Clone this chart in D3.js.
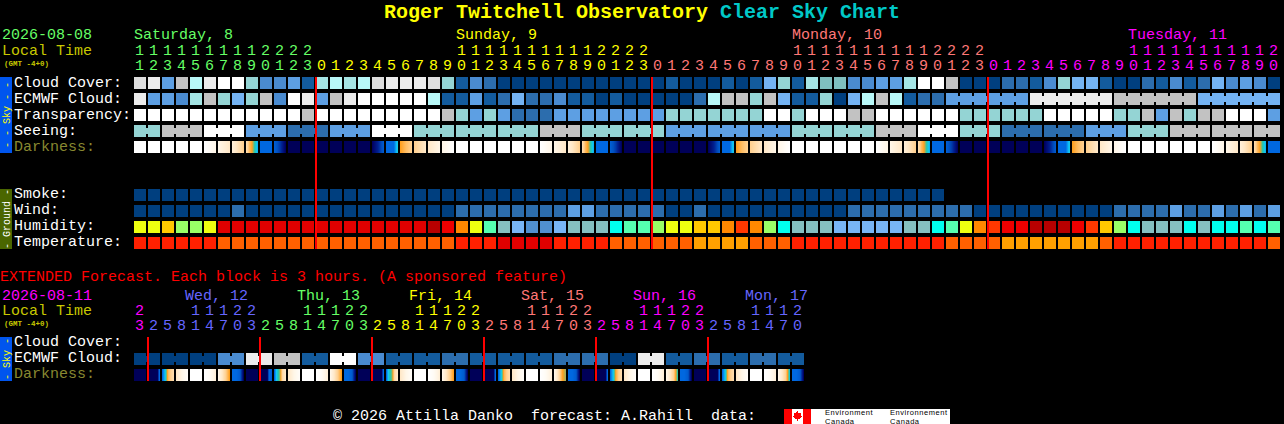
<!DOCTYPE html>
<html><head><meta charset="utf-8">
<script src="https://cdn.jsdelivr.net/npm/d3@7/dist/d3.min.js"></script>
<style>html,body{margin:0;padding:0;background:#000}svg{display:block}
text{font-family:"Liberation Mono",monospace;font-size:15px;white-space:pre}</style>
</head><body><svg id="chart" width="1284" height="424"></svg>
<script>
// ---- categories / labels ----
const titleMain = "Roger Twitchell Observatory", titleTail = "Clear Sky Chart";
const startHour = 11, extStartHour = 23;
const dayLabels = [["Saturday, 8",0,0],["Sunday, 9",23,1],["Monday, 10",47,2],["Tuesday, 11",71,3]];
const dayBreaks = [0,13,37,61];
const extDayLabels = [["Wed, 12",4],["Thu, 13",12],["Fri, 14",20],["Sat, 15",28],["Sun, 16",36],["Mon, 17",44]];
const extDayBreaks = [0,1,9,17,25,33,41];
const mainMidnights = [13,37,61];
const extMidnights = [1,9,17,25,33,41];
const skyLabels = ["Cloud Cover:","ECMWF Cloud:","Transparency:","Seeing:","Darkness:"];
const groundLabels = ["Smoke:","Wind:","Humidity:","Temperature:"];
const extLabels = ["Cloud Cover:","ECMWF Cloud:","Darkness:"];

// ---- series values (level codes) ----
const cloudCover = [10,11,4,9,8,11,12,12,6,3,3,4,1,7,8,7,8,10,11,11,11,10,6,1,3,2,0,0,0,0,0,0,0,0,0,0,0,0,1,0,0,0,1,0,1,5,6,1,7,13,13,3,3,4,4,7,12,12,9,0,0,0,2,2,1,3,6,5,5,1,0,0,2,1,3,1,2,5,3,4,3,0];
const ecmwfCloud = [11,4,4,3,7,9,6,5,6,9,3,12,11,4,9,11,12,12,12,12,12,8,1,1,4,1,2,5,2,2,3,1,1,0,1,0,0,0,0,0,2,8,9,9,6,9,5,1,1,6,0,5,8,9,8,1,2,2,4,4,4,4,4,4,11,11,11,11,11,11,9,9,9,9,9,9,5,5,5,5,5,5];
const ecmwfHourlyCols = 58, ecmwfGroupSize = 6;
const transparency = [12,12,12,12,12,12,12,12,12,12,12,12,9,12,12,12,12,12,12,12,12,12,9,6,4,6,4,2,2,2,4,4,4,4,4,4,4,4,6,6,6,6,6,6,6,12,12,6,12,12,12,9,9,12,12,12,12,12,12,6,6,6,6,6,6,12,12,12,12,12,6,6,9,4,9,6,9,9,12,12,12,4];
const seeingGroups = [2,3,3,3,3,3,3,3,3,3,3,3,3,3,3,3,3,3,3,3,3,3,3,3,3,3,3,2];
const seeing = [6,9,12,4,2,4,12,6,6,6,9,6,6,4,4,4,6,6,9,12,6,2,2,4,6,9,9,9];
const smoke = [0,0,0,0,0,0,0,0,0,0,0,0,0,0,0,0,0,0,0,0,0,0,0,0,0,0,0,0,0,0,0,0,0,0,0,0,0,0,0,0,0,0,0,0,0,0,0,0,0,0,0,0,0,0,0,0,0,0];
const wind = [0,0,0,0,0,0,0,2,0,0,0,0,0,0,0,0,0,0,0,0,0,0,0,2,2,2,2,2,2,2,2,4,4,2,2,2,2,2,0,0,2,0,0,0,0,0,0,0,0,0,0,2,2,2,2,2,2,2,2,2,0,0,0,0,0,0,0,0,0,0,2,2,2,2,4,2,2,4,2,4,2,4];
const humidity = [6,6,7,5,5,6,11,11,11,11,11,11,11,11,11,11,11,11,11,11,11,12,10,8,6,4,2,1,0,0,1,2,2,2,3,4,4,5,6,6,7,7,8,9,8,5,3,2,2,2,1,1,1,1,1,2,2,3,4,6,8,9,10,10,12,12,12,10,9,7,5,3,2,2,2,3,2,3,3,4,3,4];
const temperature = [2,2,2,2,2,2,1,1,1,1,1,1,1,1,1,1,1,1,1,1,1,1,1,2,2,2,3,3,3,3,2,2,2,2,1,1,1,1,1,1,0,0,0,0,1,1,1,2,2,2,2,2,2,2,2,2,2,2,1,1,1,1,0,0,0,0,0,0,0,1,2,2,2,2,2,2,2,2,2,2,2,1];
// darkness: samples across each block, on the darkness ramp
const darkness = [
[0],[0],[0],[0],[0],[0,1],[1,2],[1.5,3],[2.5,3.4,4,5,5.6],[6],[6.4,7.5,9],[9.5],[9.5],[9.5],[9.5],[9.5],[9.5],[9,8,6.6],[6,6,6,5.4],[4,3.4,3],[3,2],[2,1],[1,0],
[0],[0],[0],[0],[0],[0],[0,1],[1,2],[1.5,3],[2.5,3.4,4,5,5.6],[6],[6.4,7.5,9],[9.5],[9.5],[9.5],[9.5],[9.5],[9.5],[9,8,6.6],[6,6,6,5.4],[4,3.4,3],[3,2],[2,1],[1,0],
[0],[0],[0],[0],[0],[0],[0,1],[1,2],[1.5,3],[2.5,3.4,4,5,5.6],[6],[6.4,7.5,9],[9.5],[9.5],[9.5],[9.5],[9.5],[9.5],[9,8,6.6],[6,6,6,5.4],[4,3.4,3],[3,2],[2,1],[1,0],
[0],[0],[0],[0],[0],[0],[0,1],[1,2],[1.5,3],[2.5,3.4,4,5,5.6],[6]];
const extEcmwfPairs = [0,0,0,3,11,9,1,12,3,1,1,2,1,1,1,2,2,0,11,1,2,1,2,1];
const extDarkness = [
[9.5],[9.5,9.5,9.5,9.5,9.5,6],[6,5.5,3.6,3,2.5],[2,1,0.3],[0],[0,0.5,1.5],[1,2,3,4],[6,6,6.5,9],
[9.5],[9.5,9.5,9.5,9.5,6,6.5],[6,5.3,4.5,2.5,2],[2,1,0.3],[0],[0,0.5,1.5],[1,2,3,4],[6,6,6.5,9],
[9.5],[9.5,9.5,9.5,9.5,9.5,6],[6,5.2,4.6,2.5,2],[2,1,0.3],[0],[0,0.5,1.5],[1,2,3,4],[6,6,6.5,9],
[9.5],[9.5,9.5,9.5,9.5,9.5,6],[6,5.5,3.6,3,2.5],[2,1,0.3],[0],[0,0.5,1.5],[1,2,3,4,4.4],[6,6,6.5,9],
[9.5],[9.5,9.5,9.5,9.5,9.5,6],[6,5.5,3.8,3,2.5],[2,1,0.3],[0],[0,0.5,1.5],[1,2,3,4.9],[6,6,6.5,9],
[9.5],[9.5,9.5,9.5,9.5,9.5,6],[6,5.5,3.6,3,2.5],[2,1,0.3],[0],[0,0.5,1.5],[1,2,3,5.2],[6,6,6.5,9]];

// ---- styles ----
const cloudColors = ["#003f7f","#135b9d","#2c6dad","#4a8bd0","#5d9fe3","#74b3f3","#94d4d4","#a5e5e5","#b8f8f8","#c2c2c2","#dedede","#ececec","#ffffff","#7fbfbf"];
const humidColors = ["#5090d0","#78b5f5","#85c0c0","#00ffee","#55ffb0","#99ff66","#eeff10","#ffc800","#ff8800","#ff3800","#ee0000","#e00000","#b80000"];
const tempColors = ["#ffa000","#ff6000","#ff2000","#e00000"];
const dayColors = ["#66ff66","#ffff00","#ff7777","#ff00ff","#6666ff"];
const extDayColors = ["#ff00ff","#6666ff","#66ff66","#ffff00","#ff7777","#ff00ff","#6666ff"];

const cloudColor = d3.scaleOrdinal(d3.range(cloudColors.length), cloudColors);
const humidColor = d3.scaleOrdinal(d3.range(humidColors.length), humidColors);
const tempColor = d3.scaleOrdinal(d3.range(tempColors.length), tempColors);
const darkColor = d3.scaleLinear()
  .domain([0,1,2,3,4,5,5.5,6,7,8,9,9.5])
  .range(["#ffffff","#fff6e8","#ffe8c8","#ffd090","#ffa020","#20c8b0","#10c8f8","#0068e0","#0050c0","#002090","#000060","#000058"]);

const CELL = 12, PITCH = 14, ROW = 16, X0 = 134;
const x = d3.scaleLinear().domain([0,1]).range([X0, X0 + PITCH]);
const rowY = top => d3.scaleLinear().domain([0,1]).range([top, top + ROW]);
const svg = d3.select("#chart").attr("shape-rendering","crispEdges");

const expand = (vals, sizes) => { let s=0; return vals.map((v,i)=>{const g={start:s,size:sizes[i],v}; s+=sizes[i]; return g;}); };
const singles = arr => arr.map((v,i)=>({start:i,size:1,v}));

function drawRow(groups, y, color) {
  const g = svg.append("g").attr("class","row");
  const cells = groups.flatMap(d => d3.range(d.size).map(k => ({c:d.start+k, v:d.v})));
  g.selectAll("rect.cell").data(cells).join("rect").attr("class","cell")
    .attr("x",d=>x(d.c)).attr("y",y).attr("width",CELL).attr("height",CELL).attr("fill",d=>color(d.v));
  const links = groups.flatMap(d => d3.range(d.size-1).map(k => ({c:d.start+k, v:d.v})));
  g.selectAll("rect.link").data(links).join("rect").attr("class","link")
    .attr("x",d=>x(d.c)+CELL).attr("y",y+3).attr("width",PITCH-CELL).attr("height",CELL-6).attr("fill",d=>color(d.v));
}
function drawDark(samples, y) {
  const px = samples.flatMap((s,c) => {
    const f = s.length===1 ? (()=>s[0]) : d3.scaleLinear().domain(s.map((_,i)=>i/(s.length-1))).range(s);
    return d3.range(CELL).map(p => ({c,p,v:f(p/(CELL-1))}));
  });
  svg.append("g").selectAll("rect").data(px).join("rect")
    .attr("x",d=>x(d.c)+d.p).attr("y",y).attr("width",1).attr("height",CELL).attr("fill",d=>darkColor(d.v));
}
function label(t, px, py, fill) {
  return svg.append("text").attr("x",px).attr("y",py).attr("fill",fill).text(t);
}
function sidebar(top, bottom, fill, txt, color) {
  svg.append("rect").attr("x",0).attr("y",top).attr("width",12).attr("height",bottom-top).attr("fill",fill);
  svg.append("text").attr("transform",`translate(10,${(top+bottom)/2}) rotate(-90)`).attr("text-anchor","middle")
    .attr("fill",color).style("font-size","10px").text(txt);
}
function hourLabels(count, first, step, breaks, colors, yTens, yUnits) {
  const hours = d3.range(count).map(i => ({i, h:(first+i*step)%24}));
  const dayIdx = i => d3.bisectRight(breaks,i)-1;
  const g = svg.append("g").attr("text-anchor","middle");
  g.selectAll("text.u").data(hours).join("text").attr("class","u")
    .attr("x",d=>x(d.i)+5.5).attr("y",yUnits).attr("fill",d=>colors[dayIdx(d.i)]).text(d=>d.h%10);
  g.selectAll("text.t").data(hours.filter(d=>d.h>=10)).join("text").attr("class","t")
    .attr("x",d=>x(d.i)+5.5).attr("y",yTens).attr("fill",d=>colors[dayIdx(d.i)]).text(d=>Math.floor(d.h/10));
}

// title
const tt = svg.append("text").attr("x",384).attr("y",18).style("font-size","20px").style("font-weight","bold");
tt.append("tspan").attr("fill","#ffff00").text(titleMain+" ");
tt.append("tspan").attr("fill","#00c8c8").text(titleTail);

// main header
label("2026-08-08",2,39,"#66ff66");
label("Local Time",2,55,"#c8c800");
label("(GMT -4+0)",4,65.5,"#c8c800").style("font-size","7.5px").style("font-weight","bold");
dayLabels.forEach(([t,c,k]) => label(t,x(c),39,dayColors[k]));
hourLabels(cloudCover.length,startHour,1,dayBreaks,dayColors,55,70);

// sky rows
const sky = rowY(77);
sidebar(77,153,"#0055ee","- - Sky - -","#ffff00");
skyLabels.forEach((t,i)=>label(t,14,sky(i)+10,i===4?"#888830":"#ffffff"));
const ecmwfGroups = expand(
  [...ecmwfCloud.slice(0,ecmwfHourlyCols), ...d3.range(ecmwfHourlyCols,ecmwfCloud.length,ecmwfGroupSize).map(i=>ecmwfCloud[i])],
  [...ecmwfCloud.slice(0,ecmwfHourlyCols).map(()=>1), ...d3.range(ecmwfHourlyCols,ecmwfCloud.length,ecmwfGroupSize).map(()=>ecmwfGroupSize)]);
drawRow(singles(cloudCover),sky(0),cloudColor);
drawRow(ecmwfGroups,sky(1),cloudColor);
drawRow(singles(transparency),sky(2),cloudColor);
drawRow(expand(seeing,seeingGroups),sky(3),cloudColor);
drawDark(darkness,sky(4));

// ground rows
const ground = rowY(189);
sidebar(189,249,"#4a6600","- Ground -","#ffffff");
groundLabels.forEach((t,i)=>label(t,14,ground(i)+9,"#ffffff"));
drawRow(singles(smoke),ground(0),cloudColor);
drawRow(singles(wind),ground(1),cloudColor);
drawRow(singles(humidity),ground(2),humidColor);
drawRow(singles(temperature),ground(3),tempColor);

// midnight lines
svg.append("g").selectAll("rect").data(mainMidnights).join("rect")
  .attr("x",d=>x(d)-1).attr("y",77).attr("width",2).attr("height",172).attr("fill","#ff0000");

// extended forecast
label("EXTENDED Forecast. Each block is 3 hours. (A sponsored feature)",0,281,"#ff0000");
label("2026-08-11",2,300,"#ff00ff");
label("Local Time",2,315,"#c8c800");
label("(GMT -4+0)",4,325.5,"#c8c800").style("font-size","7.5px").style("font-weight","bold");
extDayLabels.forEach(([t,c],k)=>label(t,x(c)-5,300,extDayColors[k+1]));
hourLabels(extDarkness.length,extStartHour,3,extDayBreaks,extDayColors,315,330);
const ext = rowY(337);
sidebar(337,381,"#0055ee","- Sky -","#ffff00");
extLabels.forEach((t,i)=>label(t,14,ext(i)+9,i===2?"#888830":"#ffffff"));
drawRow(expand(extEcmwfPairs,extEcmwfPairs.map(()=>2)),ext(1),cloudColor);
drawDark(extDarkness,ext(2));
svg.append("g").selectAll("rect").data(extMidnights).join("rect")
  .attr("x",d=>x(d)-1).attr("y",337).attr("width",2).attr("height",44).attr("fill","#ff0000");

// footer
label("\u00a9 2026 Attilla Danko  forecast: A.Rahill  data:",333,420,"#ffffff");
const logo = svg.append("g");
logo.append("rect").attr("x",784).attr("y",409).attr("width",166).attr("height",15).attr("fill","#ffffff");
logo.append("rect").attr("x",784).attr("y",409).attr("width",8).attr("height",15).attr("fill","#ff0000");
logo.append("rect").attr("x",803).attr("y",409).attr("width",8).attr("height",15).attr("fill","#ff0000");
logo.append("path").attr("fill","#ff0000").attr("d","M797.5 411l1.5 2.5 2-.5-.5 3 1.5.5-2.5 2.5h-1.5v2h-1v-2H795l-2.5-2.5 1.5-.5-.5-3 2 .5z");
[["Environment",825],["Environnement",890]].forEach(([t,px])=>{
  logo.append("text").attr("x",px).attr("y",415).attr("fill","#000").style("font-family","Liberation Sans").style("font-size","7.5px").style("letter-spacing","0.55px").text(t);
  logo.append("text").attr("x",px).attr("y",423.5).attr("fill","#000").style("font-family","Liberation Sans").style("font-size","7.5px").style("letter-spacing","0.55px").text("Canada");
});
</script></body></html>
